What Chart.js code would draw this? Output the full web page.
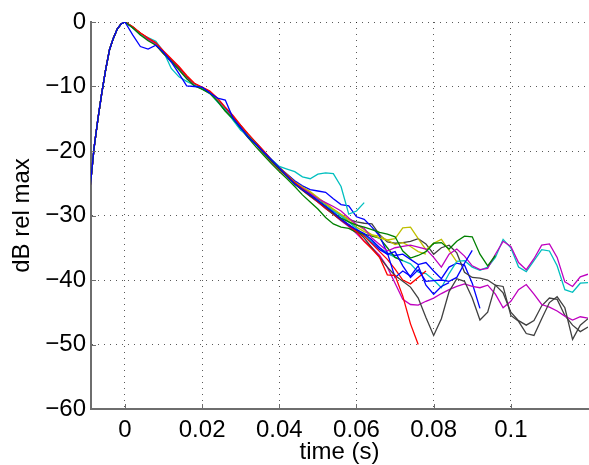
<!DOCTYPE html>
<html>
<head>
<meta charset="utf-8">
<script src="https://cdn.jsdelivr.net/npm/chart.js@4.4.1/dist/chart.umd.min.js"></script>
<style>
  html, body { margin: 0; padding: 0; background: #fff; }
  #wrap { width: 589px; height: 465px; }
</style>
</head>
<body>
<div id="wrap"><canvas id="decayChart" width="589" height="465"></canvas></div>
<script>
// Energy decay curves (dB relative to max) for several measurements.
// Every curve shares the onset, then has its own decay / noise tail.

const X_TICKS = [0, 0.02, 0.04, 0.06, 0.08, 0.1];
const Y_TICKS = [-60, -50, -40, -30, -20, -10, 0];

const riseTimes = [-0.009, -0.008, -0.007, -0.006, -0.005, -0.004, -0.003, -0.002, -0.001, 0];
const riseDb = [-25.5, -19.5, -15, -11, -7.4, -4.3, -2.5, -1.1, -0.3, 0];

const decayTimes = [
  0.002, 0.004, 0.006, 0.008, 0.010, 0.012, 0.014, 0.016, 0.018, 0.020,
  0.022, 0.024, 0.026, 0.028, 0.030, 0.032, 0.034, 0.036, 0.038, 0.040,
  0.042, 0.044, 0.046, 0.048, 0.050, 0.052, 0.054, 0.056, 0.058, 0.060,
  0.062, 0.064, 0.066, 0.068, 0.070, 0.072, 0.074, 0.076, 0.078, 0.080,
  0.082, 0.084, 0.086, 0.088, 0.090, 0.092, 0.094, 0.096, 0.098, 0.100,
  0.102, 0.104, 0.106, 0.108, 0.110, 0.112, 0.114, 0.116, 0.118, 0.120
];

const blue1Db = [-2.0,-3.8,-4.2,-3.6,-4.7,-6.2,-8.0,-9.9,-10.0,-10.1,-11.0,-11.8,-12.1,-14.9,-16.4,-17.9,-19.0,-20.2,-21.4,-22.6,-23.9,-25.1,-26.0,-26.8,-27.7,-28.6,-29.5,-30.6,-31.5,-32.2,
  -32.8,-33.8,-35.0,-36.0,-35.6,-37.8,-39.6,-38.4,-40.2,-40.1,-40.0,-40.2,-39.6,-37.4,-35.4];
const green1Db = [-0.9,-2.0,-2.9,-3.6,-4.9,-6.1,-7.4,-8.8,-9.9,-10.4,-11.0,-12.3,-13.8,-15.0,-16.4,-17.8,-19.0,-20.3,-21.6,-22.8,-23.9,-25.1,-26.0,-26.9,-27.7,-28.6,-29.6,-30.4,-31.0,-31.5,
  -31.8,-32.2,-32.6,-32.9,-33.3,-35.5,-36.6,-36.2,-35.6,-34.3,-34.2,-35.2,-34.0,-33.2,-33.3,-36.0,-37.8,-36.2];
const red1Db = [-0.7,-1.7,-2.5,-3.2,-4.5,-5.7,-6.9,-8.3,-9.5,-10.1,-10.7,-11.8,-13.2,-14.5,-16.0,-17.4,-18.7,-20.0,-21.4,-22.6,-23.7,-24.9,-25.9,-26.8,-27.8,-28.7,-29.7,-30.6,-31.6,-32.5,
  -34.0,-35.2,-36.5,-39.2,-39.3,-42.5,-46.8,-50.0];
const cyan1Db = [-0.9,-2.0,-2.4,-3.0,-4.6,-7.2,-8.5,-9.2,-9.8,-10.3,-11.0,-12.4,-13.6,-15.2,-16.8,-17.6,-18.8,-20.2,-21.3,-22.4,-22.8,-23.2,-24.0,-24.3,-23.6,-23.4,-23.5,-25.5,-29.8,-29.3,
  -28.0];
const magenta1Db = [-0.8,-1.9,-2.7,-3.5,-4.9,-6.1,-7.3,-8.7,-9.8,-10.3,-10.9,-12.2,-13.6,-14.9,-16.3,-17.7,-19.0,-20.3,-21.6,-22.8,-23.9,-25.0,-25.8,-26.6,-27.4,-28.0,-28.6,-29.3,-30.4,-31.4,
  -32.0,-33.5,-34.5,-35.5,-35.0,-34.8,-34.6,-34.9,-35.2,-36.5,-38.0,-36.0,-35.2,-36.3,-37.8,-38.4,-38.2,-36.0,-34.0,-34.8,
  -37.3,-38.4,-36.7,-34.6,-34.4,-36.5,-40.3,-41.0,-39.5,-39.1];
const yellow1Db = [-0.8,-1.8,-2.7,-3.5,-4.9,-6.2,-7.4,-8.7,-9.8,-10.3,-10.9,-12.1,-13.6,-14.9,-16.3,-17.7,-19.0,-20.3,-21.5,-22.6,-23.7,-24.8,-25.6,-26.3,-27.2,-28.1,-29.0,-29.8,-30.6,-31.4,
  -32.2,-33.0,-33.5,-33.8,-33.6,-31.9,-31.8,-33.6,-35.3,-34.3,-33.7,-35.4,-37.2];
const black1Db = [-0.8,-1.8,-2.6,-3.4,-4.7,-5.9,-7.2,-8.5,-9.6,-10.2,-10.9,-12.1,-13.5,-14.8,-16.1,-17.5,-18.8,-20.1,-21.5,-22.7,-23.8,-25.0,-26.0,-26.9,-27.8,-28.8,-29.8,-30.7,-31.6,-32.4,
  -33.5,-35.0,-36.5,-38.0,-39.3,-40.2,-41.1,-42.8,-45.8,-48.6,-46.0,-41.8,-39.8,-40.2,-42.8,-46.2,-45.0,-40.8,-41.0,-45.5,
  -46.4,-48.3,-48.6,-46.0,-43.5,-42.6,-44.3,-49.2,-47.0,-46.0];
const blue2Db = [-0.9,-1.9,-2.7,-3.5,-4.8,-6.0,-7.3,-8.6,-9.7,-10.2,-10.8,-12.0,-13.4,-14.7,-16.1,-17.5,-18.8,-20.1,-21.4,-22.6,-23.6,-24.6,-25.4,-26.0,-26.2,-26.4,-27.4,-28.3,-28.5,-30.2,
  -30.6,-31.8,-33.2,-35.8,-39.6,-38.6,-39.4,-37.8,-40.8,-42.2,-41.0,-40.4];
const green2Db = [-0.8,-1.8,-2.7,-3.5,-4.9,-6.1,-7.3,-8.7,-9.8,-10.4,-11.1,-12.3,-13.8,-15.1,-16.6,-18.0,-19.4,-20.7,-22.0,-23.2,-24.3,-25.5,-26.8,-27.9,-29.0,-30.3,-31.3,-31.8,-32.0,-32.6,
  -32.9,-33.2,-33.5,-35.0,-36.5,-37.0];
const red2Db = [-0.8,-1.7,-2.5,-3.3,-4.6,-5.8,-7.0,-8.4,-9.6,-10.2,-10.9,-12.1,-13.5,-14.9,-16.3,-17.7,-19.0,-20.4,-21.7,-22.9,-24.0,-25.1,-26.1,-27.0,-27.9,-28.9,-29.8,-30.7,-31.5,-32.3,
  -33.2,-34.4,-35.6,-36.8,-38.3,-40.0,-40.6,-39.6,-38.6];
const cyan2Db = [-0.8,-1.8,-2.6,-3.4,-4.8,-6.1,-7.3,-8.6,-9.7,-10.3,-10.9,-12.0,-13.4,-14.8,-16.2,-17.6,-18.9,-20.2,-21.5,-22.7,-23.8,-24.9,-25.8,-26.7,-27.6,-28.5,-29.3,-30.1,-31.0,-32.0,
  -33.2,-34.0,-35.0,-35.8,-36.5,-37.0,-37.5,-38.8,-39.0,-40.0,-41.2,-39.0,-37.1,-37.0,-38.0,-38.5,-38.0,-36.5,-33.7,-35.0,
  -38.0,-38.7,-37.0,-35.3,-35.5,-37.8,-41.5,-41.9,-40.5,-40.4];
const magenta2Db = [-0.8,-1.8,-2.6,-3.4,-4.8,-6.0,-7.2,-8.5,-9.6,-10.2,-10.9,-12.1,-13.5,-14.8,-16.2,-17.6,-18.9,-20.2,-21.5,-22.7,-23.8,-25.0,-26.0,-26.9,-27.9,-28.9,-29.8,-30.8,-31.7,-32.8,
  -34.0,-35.0,-36.2,-38.0,-40.5,-43.0,-43.8,-43.9,-43.3,-42.8,-42.1,-41.5,-41.0,-40.6,-41.0,-41.2,-40.8,-42.2,-44.3,-43.3,
  -41.5,-40.7,-42.2,-43.8,-44.2,-44.8,-45.6,-46.2,-45.7,-45.9];
const yellow2Db = [-0.8,-1.8,-2.6,-3.4,-4.8,-6.0,-7.2,-8.6,-9.7,-10.2,-10.8,-12.0,-13.4,-14.7,-16.1,-17.5,-18.8,-20.1,-21.4,-22.5,-23.6,-24.7,-25.6,-26.4,-27.3,-28.2,-29.1,-30.0,-30.9,-31.8,
  -32.5,-33.0,-33.2,-33.8,-34.5,-34.2,-34.8,-35.6,-36.0];
const black2Db = [-0.8,-1.8,-2.6,-3.4,-4.8,-6.0,-7.3,-8.6,-9.7,-10.2,-10.8,-12.0,-13.5,-14.8,-16.2,-17.6,-18.9,-20.2,-21.5,-22.7,-23.7,-24.8,-25.7,-26.5,-27.4,-28.3,-29.1,-29.9,-30.6,-31.0,
  -31.2,-31.3,-33.0,-34.1,-34.3,-34.2,-34.0,-33.6,-34.4,-36.0,-35.0,-34.6,-35.8,-38.8,-39.6,-39.7,-40.0,-40.8,-42.0,-45.0,
  -46.3,-47.0,-46.3,-44.0,-42.8,-43.0,-45.5,-47.0,-48.0,-47.3];
const blue3Db = [-0.8,-1.8,-2.6,-3.4,-4.7,-6.0,-7.2,-8.6,-9.7,-10.2,-10.8,-12.0,-13.5,-14.9,-16.3,-17.7,-19.0,-20.3,-21.6,-22.8,-23.9,-25.1,-26.1,-27.0,-27.9,-28.8,-29.6,-30.5,-31.4,-32.3,
  -33.0,-34.2,-35.3,-36.0,-36.2,-36.0,-36.8,-37.6,-37.3,-38.6,-39.8,-38.0,-37.4,-37.7,-40.5,-44.4];

// MATLAB's classic line colour order: b g r c m y k, repeated
const curveValues = [blue1Db, green1Db, red1Db, cyan1Db, magenta1Db, yellow1Db, black1Db,
                     blue2Db, green2Db, red2Db, cyan2Db, magenta2Db, yellow2Db, black2Db, blue3Db];
const curveColors = ['#0000ff', '#008000', '#ff0000', '#00bfbf', '#bf00bf', '#bfbf00', '#404040',
                     '#0000ff', '#008000', '#ff0000', '#00bfbf', '#bf00bf', '#bfbf00', '#404040', '#0000ff'];

const FONT = { family: '"Liberation Sans", Arial, Helvetica, sans-serif', size: 24 };
const AXIS_COLOR = '#6e6e6e';

function buildPoints(values) {
  const rise = riseTimes.map((t, i) => ({ x: t, y: riseDb[i] }));
  const decay = values.map((v, i) => ({ x: decayTimes[i], y: v }));
  return rise.concat(decay);
}

function formatMinus(v) {
  return v < 0 ? '\u2212' + Math.abs(v) : String(v);
}

// MATLAB style tick marks pointing into the axes
const inwardTicks = {
  id: 'inwardTicks',
  afterDatasetsDraw(chart) {
    const { ctx, chartArea, scales } = chart;
    ctx.save();
    ctx.strokeStyle = AXIS_COLOR;
    ctx.lineWidth = 1;
    ctx.beginPath();
    X_TICKS.forEach(v => {
      const px = Math.round(scales.x.getPixelForValue(v)) + 0.5;
      ctx.moveTo(px, chartArea.bottom);
      ctx.lineTo(px, chartArea.bottom - 5);
    });
    Y_TICKS.forEach(v => {
      const py = Math.round(scales.y.getPixelForValue(v)) + 0.5;
      ctx.moveTo(chartArea.left, py);
      ctx.lineTo(chartArea.left + 5, py);
    });
    ctx.stroke();
    ctx.restore();
  }
};

const gridStyle = { color: 'rgba(0,0,0,0.65)', lineWidth: 1, drawTicks: false };
const borderStyle = { display: true, color: AXIS_COLOR, width: 2, dash: [1, 5] };

new Chart(document.getElementById('decayChart'), {
  type: 'line',
  data: {
    datasets: curveValues.map((vals, i) => ({
      data: buildPoints(vals),
      borderColor: curveColors[i],
      borderWidth: 1.3,
      pointRadius: 0,
      tension: 0,
      fill: false
    }))
  },
  options: {
    responsive: false,
    animation: false,
    devicePixelRatio: 1,
    layout: { padding: { top: 22, right: 1, left: 0, bottom: 0 } },
    plugins: { legend: { display: false }, tooltip: { enabled: false } },
    scales: {
      x: {
        type: 'linear',
        min: -0.0088,
        max: 0.12,
        afterBuildTicks: s => { s.ticks = X_TICKS.map(v => ({ value: v })); },
        afterFit: s => { s.height = 56; },
        grid: gridStyle,
        border: borderStyle,
        ticks: {
          color: '#000', font: FONT, padding: 7, maxRotation: 0, autoSkip: false,
          callback: v => String(+v.toFixed(2))
        },
        title: { display: true, text: 'time (s)', color: '#000', font: FONT, padding: { top: 0, bottom: -2 } }
      },
      y: {
        type: 'linear',
        min: -60,
        max: 0,
        afterBuildTicks: s => { s.ticks = Y_TICKS.map(v => ({ value: v })); },
        afterFit: s => { s.width = 91; },
        grid: gridStyle,
        border: borderStyle,
        ticks: { color: '#000', font: FONT, padding: 5, callback: v => formatMinus(v) },
        title: { display: true, text: 'dB rel max', color: '#000', font: FONT, padding: { top: 8, bottom: 0 } }
      }
    }
  },
  plugins: [inwardTicks]
});
</script>
</body>
</html>
